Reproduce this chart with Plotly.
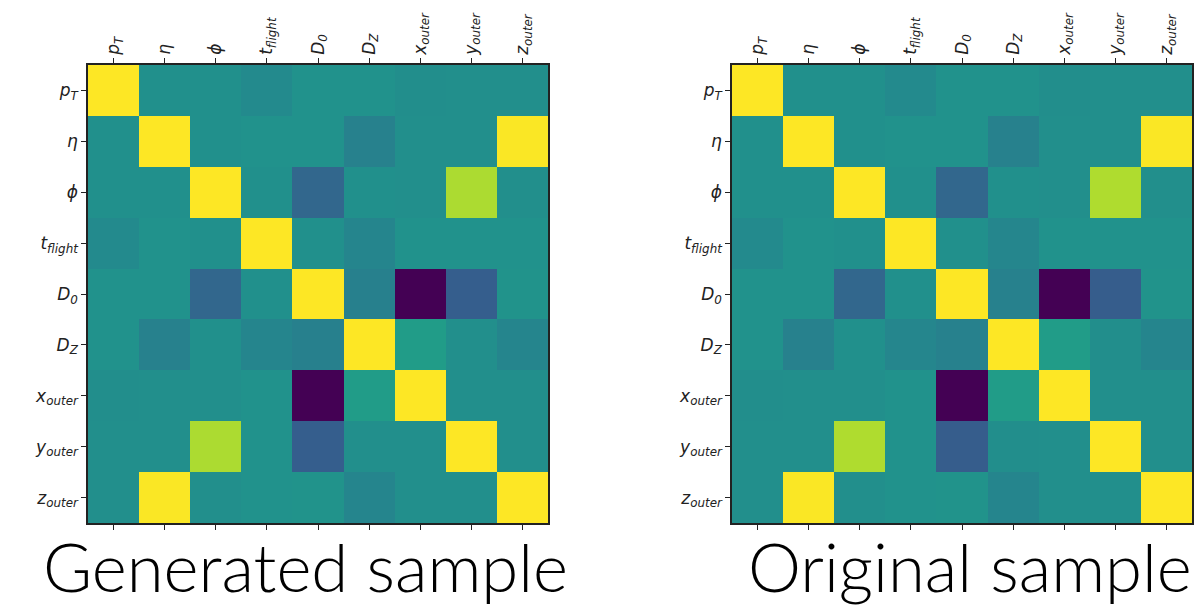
import plotly.graph_objects as go

labels = [
    "<i>p<sub>T</sub></i>", "<i>η</i>", "<i>ϕ</i>", "<i>t<sub>flight</sub></i>",
    "<i>D<sub>0</sub></i>", "<i>D<sub>Z</sub></i>", "<i>x<sub>outer</sub></i>",
    "<i>y<sub>outer</sub></i>", "<i>z<sub>outer</sub></i>",
]

generated_corr = [
    [1.00, 0.00, 0.00, -0.05, 0.01, 0.01, -0.02, -0.01, -0.01],
    [0.00, 1.00, 0.00, 0.01, 0.01, -0.12, -0.01, -0.01, 0.99],
    [0.00, 0.00, 1.00, 0.00, -0.33, 0.00, -0.01, 0.75, -0.01],
    [-0.05, 0.01, 0.00, 1.00, 0.00, -0.09, 0.01, 0.01, 0.01],
    [0.01, 0.01, -0.33, 0.00, 1.00, -0.13, -0.99, -0.40, 0.02],
    [0.01, -0.12, 0.00, -0.09, -0.13, 1.00, 0.10, -0.01, -0.09],
    [-0.02, -0.01, -0.01, 0.01, -0.99, 0.10, 1.00, -0.01, -0.01],
    [-0.01, -0.01, 0.75, 0.01, -0.40, -0.01, -0.01, 1.00, -0.01],
    [-0.01, 0.99, -0.01, 0.01, 0.02, -0.09, -0.01, -0.01, 1.00],
]

original_corr = [
    [1.00, 0.00, 0.00, -0.05, 0.01, 0.01, -0.02, -0.01, -0.01],
    [0.00, 1.00, 0.00, 0.01, 0.01, -0.12, -0.01, -0.01, 0.99],
    [0.00, 0.00, 1.00, 0.00, -0.33, 0.00, -0.01, 0.76, -0.01],
    [-0.05, 0.01, 0.00, 1.00, 0.00, -0.08, 0.01, 0.01, 0.01],
    [0.01, 0.01, -0.33, 0.00, 1.00, -0.12, -0.99, -0.41, 0.02],
    [0.01, -0.12, 0.00, -0.08, -0.12, 1.00, 0.10, -0.02, -0.09],
    [-0.02, -0.01, -0.01, 0.01, -0.99, 0.10, 1.00, -0.01, -0.01],
    [-0.01, -0.01, 0.76, 0.01, -0.41, -0.02, -0.01, 1.00, -0.01],
    [-0.01, 0.99, -0.01, 0.01, 0.02, -0.09, -0.01, -0.01, 1.00],
]

titles = ["Generated sample", "Original sample"]

viridis = [
    [0.0, "#440154"], [0.1, "#482475"], [0.2, "#414487"], [0.3, "#355f8d"],
    [0.4, "#2a788e"], [0.5, "#21918c"], [0.6, "#22a884"], [0.7, "#44bf70"],
    [0.8, "#7ad151"], [0.9, "#bddf26"], [1.0, "#fde725"],
]

idx = list(range(len(labels)))

W, H = 1194, 597  # page body has an 8px margin in the 1202x605 window

fig = go.Figure()
for k, mat in enumerate([generated_corr, original_corr]):
    sfx = "" if k == 0 else "2"
    fig.add_trace(go.Heatmap(
        z=mat, x=idx, y=idx, colorscale=viridis, showscale=False,
        xaxis="x" + sfx, yaxis="y" + sfx, hoverinfo="z",
    ))

tickfont = dict(family="DejaVu Sans", size=17, color="#222222")
x_domains = [[80 / W, 540 / W], [724 / W, 1184 / W]]
y_domain = [82 / H, 540 / H]

for k in range(2):
    sfx = "" if k == 0 else "2"
    fig.update_layout(**{
        "xaxis" + sfx: dict(
            domain=x_domains[k], anchor="y" + sfx, side="top",
            range=[-0.5, 8.5], tickvals=idx, ticktext=labels, tickangle=-90,
            ticks="outside", ticklen=5, tickwidth=1, tickcolor="#222",
            showline=True, linecolor="#222", linewidth=1.5, mirror="ticks",
            showgrid=False, zeroline=False, tickfont=tickfont, automargin=False,
        ),
        "yaxis" + sfx: dict(
            domain=y_domain, anchor="x" + sfx,
            range=[8.5, -0.5], tickvals=idx, ticktext=labels,
            ticks="outside", ticklen=5, tickwidth=1, tickcolor="#222",
            showline=True, linecolor="#222", linewidth=1.5, mirror=True,
            showgrid=False, zeroline=False, tickfont=tickfont, automargin=False,
        ),
    })

title_x = [297 / W, 962 / W]
for k in range(2):
    fig.add_annotation(
        text=titles[k], x=title_x[k], y=39 / H, xref="paper", yref="paper",
        xanchor="center", yanchor="middle", showarrow=False,
        font=dict(family="Lato", size=67, color="black", weight=300),
    )

fig.update_layout(
    width=W, height=H, margin=dict(l=0, r=0, t=0, b=0),
    paper_bgcolor="white", plot_bgcolor="white", showlegend=False,
)

fig.write_html("out.html")
